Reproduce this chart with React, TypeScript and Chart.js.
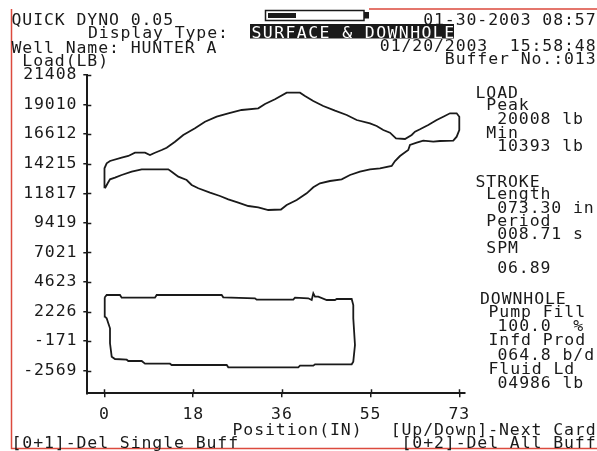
import React, { useEffect, useRef } from 'react';
import { Chart, registerables } from 'chart.js';

Chart.register(...registerables);

// ---------- data ----------
const yTickValues = [21408, 19010, 16612, 14215, 11817, 9419, 7021, 4623, 2226, -171, -2569];
const xTickValues = [0, 18.33, 36.65, 54.98, 73.3];
const xTickLabels = ['0', '18', '36', '55', '73'];

// Surface card (position in, load lb)
const surfacePosition = [
  0.0, 0.0, 0.45, 1.14, 3.55, 4.92, 6.3, 8.37, 9.4, 10.43, 11.82, 12.85, 14.57, 16.28, 18.7, 20.76,
  23.18, 25.58, 28.34, 31.77, 33.16, 35.22, 37.64, 40.39, 41.42, 43.14, 45.2, 47.62, 50.04, 52.1,
  54.85, 56.23, 57.6, 58.98, 60.22, 62.08, 63.47, 64.15, 65.18, 66.89, 68.63, 69.99, 71.38, 72.76,
  73.3, 73.3, 72.76, 72.06, 69.31, 67.93, 65.86, 64.5, 63.11, 62.76, 61.05, 60.02, 59.33, 56.92,
  54.85, 52.78, 50.72, 49.0, 46.58, 44.52, 43.14, 41.77, 39.71, 37.64, 36.46, 33.84, 31.77, 29.71,
  27.64, 25.58, 23.86, 21.8, 19.38, 18.01, 16.98, 15.25, 13.88, 13.18, 7.69, 5.62, 3.55, 2.17,
  1.14, 0.66, 0.1, 0.0,
];
const surfaceLoad = [
  12221, 13842, 14248, 14434, 14702, 14840, 15107, 15107, 14921, 15107, 15326, 15513, 15999, 16543, 17086, 17621,
  18027, 18302, 18570, 18708, 19056, 19438, 19973, 19973, 19705, 19300, 18894, 18513, 18164, 17759,
  17491, 17272, 16948, 16729, 16275, 16218, 16543, 16810, 17005, 17353, 17759, 18027, 18302, 18302,
  18027, 16948, 16405, 16080, 16056, 15999, 16080, 15918, 15732, 15326, 14840, 14434, 14029, 13842,
  13761, 13567, 13299, 12950, 12812, 12626, 12302, 11815, 11272, 10866, 10501, 10461, 10680, 10785,
  11053, 11328, 11596, 11864, 12221, 12488, 12894, 13161, 13567, 13761, 13761, 13567, 13299, 13080,
  12950, 12626, 12221, 12221,
];

// Downhole card
const downholePosition = [
  0.0, 0.45, 3.2, 3.55, 10.43, 10.78, 24.21, 24.54, 31.09, 31.44, 39.0, 39.36, 42.1, 42.81, 43.14,
  43.49, 44.17, 45.91, 47.62, 47.97, 51.07, 51.4, 51.4, 51.75, 51.4, 51.07, 43.49, 43.14, 40.39,
  40.04, 25.58, 25.25, 13.88, 13.53, 8.37, 7.69, 4.92, 4.59, 2.17, 1.49, 1.14, 1.14, 0.79, 0.45,
  0.1, 0.1, 0.0,
];
const downholeLoad = [
  3349, 3568, 3568, 3349, 3349, 3568, 3568, 3382, 3301, 3187, 3187, 3349, 3301, 3163, 3706,
  3430, 3430, 3163, 3163, 3244, 3244, 2757, 1679, -486, -1840, -2051, -2051, -2165, -2165,
  -2295, -2295, -2108, -2108, -2003, -2003, -1784, -1784, -1678, -1622, -1435, -348, 868, 1273, 1679,
  1808, 3163, 3349,
];

// Texts
const headerLeftLines = ['QUICK DYNO 0.05', 'Well Name: HUNTER A', ' Load(LB)'];
const headerRightLines = ['01-30-2003 08:57', '01/20/2003  15:58:48', 'Buffer No.:013'];
const displayTypeLabel = 'Display Type:';
const displayTypeValue = 'SURFACE & DOWNHOLE';
const loadStrokeLines = [
  'LOAD', ' Peak', '  20008 lb', ' Min', '  10393 lb',
  'STROKE', ' Length', '  073.30 in', ' Period', '  008.71 s', ' SPM', '  06.89',
];
const downholeLines = ['DOWNHOLE', 'Pump Fill', '100.0  %', 'Infd Prod', '064.8 b/d', 'Fluid Ld', '04986 lb'];
const xAxisTitle = 'Position(IN)';
const footerRightUpper = '[Up/Down]-Next Card';
const footerLeft = '[0+1]-Del Single Buff';
const footerRight = '[0+2]-Del All Buff';

// ---------- layout / style ----------
const W = 597;
const H = 451;
const FONT_FAMILY = '"DejaVu Sans Mono", monospace';
const FONT_SIZE = 16.5;
const LETTER_SPACING = '0.9px';
const INK = '#1a1a1a';
const RED = '#dc4a3d';
const PLOT = { left: 87.3, top: 75, right: 465, bottom: 393.3 };
const headerLeftPos = [[11.5, 25], [11.5, 52.5], [11.5, 66]];
const headerRightBaselines = [24.5, 50.5, 64];
const loadStrokeBaselines = [97.5, 110, 124, 137.5, 151, 186.5, 199, 212.5, 226, 239, 252.5, 273];
const downholeX = [480, 488.5, 497.5, 488.5, 497.5, 488.5, 497.5];
const downholeBaselines = [304, 317, 330.5, 345, 360, 373.5, 387.5];

const spacingPlugin = {
  id: 'spacing',
  beforeDraw(chart: any) {
    (chart.ctx as any).letterSpacing = LETTER_SPACING;
  },
};

const overlayPlugin = {
  id: 'overlay',
  afterDraw(chart: any) {
    const ctx: CanvasRenderingContext2D = chart.ctx;
    const { chartArea, scales } = chart;
    ctx.save();
    // inner halves of the crossing tick marks
    ctx.strokeStyle = INK;
    ctx.lineWidth = 1.5;
    ctx.beginPath();
    scales.y.ticks.forEach((t: any) => {
      const y = Math.round(scales.y.getPixelForValue(t.value)) + 0.5;
      ctx.moveTo(chartArea.left, y);
      ctx.lineTo(chartArea.left + 4, y);
    });
    scales.x.ticks.forEach((t: any) => {
      const x = Math.round(scales.x.getPixelForValue(t.value)) + 0.5;
      ctx.moveTo(x, chartArea.bottom - 4);
      ctx.lineTo(x, chartArea.bottom);
    });
    ctx.stroke();

    // red frame
    ctx.strokeStyle = RED;
    ctx.lineWidth = 1.5;
    ctx.beginPath();
    ctx.moveTo(11.5, 9);
    ctx.lineTo(11.5, 448.5);
    ctx.lineTo(W, 448.5);
    ctx.moveTo(369, 9);
    ctx.lineTo(W, 9);
    ctx.stroke();

    // battery / progress bar
    ctx.strokeStyle = INK;
    ctx.lineWidth = 1.5;
    ctx.strokeRect(265.5, 10.5, 98.5, 10);
    ctx.fillStyle = INK;
    ctx.fillRect(268, 13, 28, 5);
    ctx.fillRect(364, 12, 5, 6.5);

    // texts
    (ctx as any).letterSpacing = LETTER_SPACING;
    ctx.font = `${FONT_SIZE}px ${FONT_FAMILY}`;
    ctx.textBaseline = 'alphabetic';
    ctx.fillStyle = INK;
    ctx.textAlign = 'left';
    headerLeftLines.forEach((s, i) => ctx.fillText(s, headerLeftPos[i][0], headerLeftPos[i][1]));
    ctx.fillText(displayTypeLabel, 88, 38);
    loadStrokeLines.forEach((s, i) => ctx.fillText(s, 475.5, loadStrokeBaselines[i]));
    downholeLines.forEach((s, i) => ctx.fillText(s, downholeX[i], downholeBaselines[i]));
    ctx.fillText(xAxisTitle, 232.5, 435);
    ctx.fillText(footerLeft, 11.5, 448);
    ctx.textAlign = 'right';
    headerRightLines.forEach((s, i) => ctx.fillText(s, 596.5, headerRightBaselines[i]));
    ctx.fillText(footerRightUpper, 596.5, 435);
    ctx.fillText(footerRight, 596.5, 448);

    // inverted display-type value
    ctx.fillStyle = INK;
    ctx.fillRect(250, 24, 204, 14.5);
    ctx.fillStyle = '#ffffff';
    ctx.textAlign = 'left';
    (ctx as any).letterSpacing = '1.4px';
    ctx.fillText(displayTypeValue, 251.5, 37.5);
    ctx.restore();
  },
};

export default function App() {
  const canvasRef = useRef<HTMLCanvasElement | null>(null);

  useEffect(() => {
    document.body.style.margin = '0';
    const canvas = canvasRef.current;
    if (!canvas) return;
    const font = { family: FONT_FAMILY, size: FONT_SIZE, lineHeight: 1.2 };
    const chart = new Chart(canvas, {
      type: 'line',
      data: {
        datasets: [
          {
            label: 'Surface',
            data: surfacePosition.map((x, i) => ({ x, y: surfaceLoad[i] })),
            borderColor: INK,
            borderWidth: 1.8,
            pointRadius: 0,
            tension: 0,
            fill: false,
          },
          {
            label: 'Downhole',
            data: downholePosition.map((x, i) => ({ x, y: downholeLoad[i] })),
            borderColor: INK,
            borderWidth: 1.8,
            pointRadius: 0,
            tension: 0,
            fill: false,
          },
        ],
      },
      options: {
        animation: false,
        responsive: false,
        maintainAspectRatio: false,
        devicePixelRatio: 1,
        layout: { padding: { left: 0, top: PLOT.top, right: W - PLOT.right, bottom: 0 } },
        plugins: { legend: { display: false }, tooltip: { enabled: false }, title: { display: false } },
        scales: {
          x: {
            type: 'linear',
            min: -3.55,
            max: 74.48,
            afterFit: (s: any) => { s.height = H - PLOT.bottom; },
            afterBuildTicks: (s: any) => { s.ticks = xTickValues.map((v) => ({ value: v })); },
            grid: { drawOnChartArea: false, drawTicks: true, tickLength: 4, color: INK, lineWidth: 1.5 },
            border: { display: true, color: INK, width: 2 },
            ticks: {
              autoSkip: false,
              maxRotation: 0,
              padding: 8,
              color: INK,
              font,
              callback: (_v: any, i: number) => xTickLabels[i],
            },
          },
          y: {
            type: 'linear',
            min: -4403,
            max: 21408,
            afterFit: (s: any) => { s.width = PLOT.left; },
            afterBuildTicks: (s: any) => { s.ticks = yTickValues.map((v) => ({ value: v })); },
            grid: { drawOnChartArea: false, drawTicks: true, tickLength: 4, color: INK, lineWidth: 1.5 },
            border: { display: true, color: INK, width: 2 },
            ticks: {
              autoSkip: false,
              padding: 6,
              color: INK,
              font,
              callback: (_v: any, i: number) => String(yTickValues[i]),
            },
          },
        },
      } as any,
      plugins: [spacingPlugin, overlayPlugin],
    });
    return () => chart.destroy();
  }, []);

  return (
    <div style={{ position: 'fixed', left: 0, top: 0, width: W, height: H, background: '#fff' }}>
      <canvas ref={canvasRef} width={W} height={H} style={{ display: 'block', width: W, height: H }} />
    </div>
  );
}
